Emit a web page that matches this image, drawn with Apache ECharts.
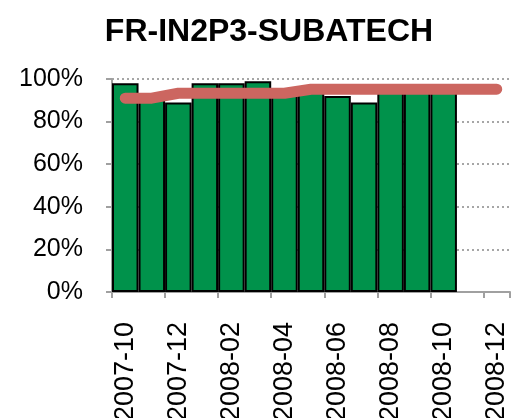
<!DOCTYPE html>
<html>
<head>
<meta charset="utf-8">
<script src="https://cdn.jsdelivr.net/npm/echarts@6/dist/echarts.min.js"></script>
<style>
  html, body { margin: 0; padding: 0; background: #ffffff; }
  #chart { width: 511px; height: 418px; }
</style>
</head>
<body>
<div id="chart"></div>
<script>
// Meses del eje (uno por categoría)
const months = ['2007-10', '2007-11', '2007-12', '2008-01', '2008-02', '2008-03', '2008-04',
  '2008-05', '2008-06', '2008-07', '2008-08', '2008-09', '2008-10', '2008-11', '2008-12'];
// Disponibilidad mensual (%)
const availability = [98, 92, 89, 98, 98, 99, 93, 94, 92, 89, 94, 95, 94];
// Objetivo (%)
const target = [91, 91, 93.3, 93.3, 93.3, 93.3, 93.3, 95.2, 95.2, 95.2, 95.2, 95.2, 95.2, 95.2, 95.2];
const yTicks = [0, 20, 40, 60, 80, 100];

const myChart = echarts.init(document.getElementById('chart'));
const font = '"Liberation Sans", Arial, sans-serif';

const option = {
  animation: false,
  title: {
    text: 'FR-IN2P3-SUBATECH',
    left: 264,
    top: 11,
    textAlign: 'center',
    textStyle: { fontSize: 32, fontWeight: 'bold', color: '#000', fontFamily: font }
  },
  grid: { left: 112, right: 1, top: 79, bottom: 126, containLabel: false, outerBoundsMode: 'none' },
  xAxis: {
    type: 'category',
    data: months,
    boundaryGap: true,
    axisLine: { lineStyle: { color: '#a0a0a0', width: 2 } },
    axisTick: { show: true, length: 6, interval: 1, lineStyle: { color: '#a0a0a0', width: 2 } },
    axisLabel: {
      interval: 1,
      rotate: 90,
      margin: 30,
      fontSize: 27,
      color: '#000',
      fontFamily: font
    },
    splitLine: { show: false }
  },
  yAxis: {
    type: 'value',
    min: yTicks[0],
    max: yTicks[yTicks.length - 1],
    interval: 20,
    axisLine: { show: true, lineStyle: { color: '#a0a0a0', width: 2 } },
    axisTick: { show: true, length: 6, lineStyle: { color: '#a0a0a0', width: 2 } },
    axisLabel: {
      formatter: '{value}%',
      margin: 29,
      fontSize: 25,
      color: '#000',
      fontFamily: font
    },
    splitLine: { show: true, lineStyle: { color: '#a6a6a6', width: 2, type: [2, 3] } }
  },
  series: [
    {
      name: 'Availability',
      type: 'bar',
      data: availability,
      barCategoryGap: '0%',
      itemStyle: { color: '#00924B', borderColor: '#000', borderWidth: 2 },
      z: 2
    },
    {
      name: 'Target',
      type: 'line',
      data: target,
      symbol: 'none',
      lineStyle: { color: '#CC6660', width: 11, cap: 'round', join: 'round' },
      z: 3
    }
  ]
};

myChart.setOption(option);
</script>
</body>
</html>
